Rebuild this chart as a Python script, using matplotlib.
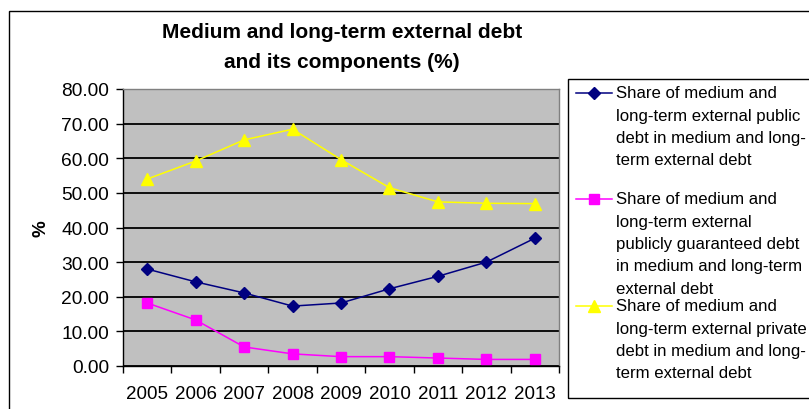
import matplotlib
matplotlib.use("Agg")
import matplotlib.pyplot as plt
from matplotlib.lines import Line2D
from matplotlib.patches import Rectangle

plt.rcParams['font.family'] = ['Liberation Sans', 'DejaVu Sans']

years = ["2005", "2006", "2007", "2008", "2009", "2010", "2011", "2012", "2013"]
public_share = [28.0, 24.3, 21.1, 17.3, 18.2, 22.3, 25.9, 30.0, 36.9]
guaranteed_share = [18.2, 13.3, 5.5, 3.5, 2.7, 2.7, 2.3, 1.9, 1.9]
private_share = [54.0, 59.2, 65.3, 68.4, 59.6, 51.5, 47.4, 47.0, 46.9]
y_ticks = [0, 10, 20, 30, 40, 50, 60, 70, 80]

series = [
    (public_share, "#000080", "D", 6.0,
     ["Share of medium and", "long-term external public",
      "debt in medium and long-", "term external debt"]),
    (guaranteed_share, "#FF00FF", "s", 6.5,
     ["Share of medium and", "long-term external",
      "publicly guaranteed debt", "in medium and long-term",
      "external debt"]),
    (private_share, "#FFFF00", "^", 8.5,
     ["Share of medium and", "long-term external private",
      "debt in medium and long-", "term external debt"]),
]

W, H = 809, 410
fig = plt.figure(figsize=(W / 100, H / 100), dpi=100)
fig.patch.set_facecolor("white")


def fx(px):
    return px / W


def fy(py):
    return 1 - py / H


# outer chart frame
fig.patches.append(Rectangle((fx(9), fy(420)), fx(820) - fx(9), fy(12) - fy(420),
                             transform=fig.transFigure, fill=False,
                             edgecolor="black", linewidth=1.0, clip_on=False))

ax = fig.add_axes([fx(123), fy(367), fx(559) - fx(123), fy(90) - fy(367)])
ax.set_facecolor("#C0C0C0")

x = list(range(len(years)))
for values, color, marker, msize, _ in series:
    ax.plot(x, values, color=color, linewidth=1.1, marker=marker,
            markersize=msize, markerfacecolor=color, markeredgecolor=color,
            zorder=3)

ax.set_xlim(-0.5, len(years) - 0.5)
ax.set_ylim(0, 80)
ax.set_yticks(y_ticks)
ax.set_yticklabels([f"{v:.2f}" for v in y_ticks], fontsize=13.8)
ax.yaxis.grid(True, color="black", linewidth=1.3)
ax.set_axisbelow(True)

ax.set_xticks([i - 0.5 for i in range(len(years) + 1)])
ax.set_xticklabels([])
ax.set_xticks(x, minor=True)
ax.set_xticklabels(years, minor=True, fontsize=13.5)
ax.tick_params(axis="x", which="minor", length=0, pad=14)
ax.tick_params(axis="x", which="major", length=5, width=1, direction="out")
ax.tick_params(axis="y", length=5, width=1, direction="out", pad=5)

for side in ("left", "bottom"):
    ax.spines[side].set_color("black")
    ax.spines[side].set_linewidth(1.0)
for side in ("top", "right"):
    ax.spines[side].set_color("#808080")
    ax.spines[side].set_linewidth(1.0)

ax.set_ylabel("%", fontsize=13.5, fontweight="bold")
ax.yaxis.set_label_coords((49 - 123) / 436, 0.5)

fig.text(fx(342), fy(33), "Medium and long-term external debt",
         ha="center", va="center", fontsize=15, fontweight="bold")
fig.text(fx(342), fy(62), "and its components (%)",
         ha="center", va="center", fontsize=15, fontweight="bold")

# legend box
fig.patches.append(Rectangle((fx(568), fy(399)), fx(820) - fx(568), fy(80) - fy(399),
                             transform=fig.transFigure, fill=False,
                             edgecolor="black", linewidth=1.0, clip_on=False))

entry_tops = [94, 200, 307]
line_step = 22.3
for (values, color, marker, msize, lines), top in zip(series, entry_tops):
    fig.add_artist(Line2D([fx(576), fx(612)], [fy(top), fy(top)],
                          transform=fig.transFigure, color=color, linewidth=1.1))
    fig.add_artist(Line2D([fx(594)], [fy(top)], transform=fig.transFigure,
                          color=color, marker=marker, markersize=msize,
                          markerfacecolor=color, markeredgecolor=color))
    for k, line in enumerate(lines):
        fig.text(fx(616), fy(top + k * line_step), line, ha="left", va="center",
                 fontsize=12.1)

fig.savefig("out.png", dpi=100)
